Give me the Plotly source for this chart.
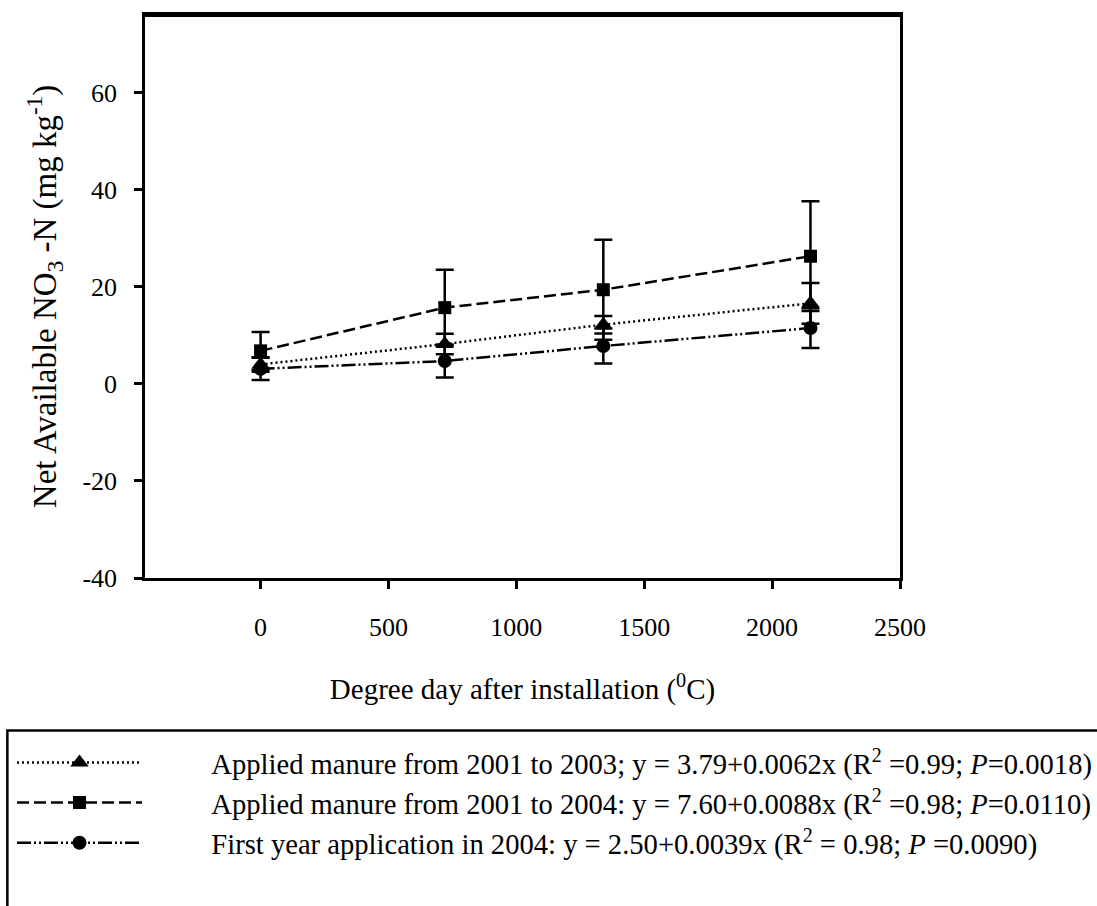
import plotly.graph_objects as go

degree_days = [0, 720, 1340, 2150]

tri_y = [4.0, 8.2, 12.2, 16.6]
tri_err = [1.5, 2.1, 1.8, 4.2]

sq_y = [6.8, 15.7, 19.4, 26.3]
sq_err = [3.9, 7.8, 10.3, 11.3]

cir_y = [3.1, 4.7, 7.8, 11.5]
cir_err = [2.3, 3.4, 3.6, 4.1]

x_ticks = [0, 500, 1000, 1500, 2000, 2500]
y_ticks = [-40, -20, 0, 20, 40, 60]
y_tick_text = ["-40", "-20", "0", "20", "40", "60"]

names = [
    "Applied manure from 2001 to 2003; y = 3.79+0.0062x (R<sup>2</sup> =0.99; <i>P</i>=0.0018)",
    "Applied manure from 2001 to 2004: y = 7.60+0.0088x (R<sup>2</sup> =0.98; <i>P</i>=0.0110)",
    "First year application in 2004: y = 2.50+0.0039x (R<sup>2</sup> = 0.98; <i>P</i> =0.0090)",
]

FONT = "Liberation Serif, serif"
PAD = "\u2002" * 4 + "\u00a0"

fig = go.Figure()

series = [
    (tri_y, tri_err, "triangle-up", 16, "2px,3px", names[0]),
    (sq_y, sq_err, "square", 13, "12px,5px", names[1]),
    (cir_y, cir_err, "circle", 14, "14px,3px,2px,3px,2px,3px", names[2]),
]

for ys, errs, sym, size, dash, name in series:
    fig.add_trace(go.Scatter(
        x=degree_days, y=ys, name=PAD + name,
        mode="lines+markers",
        line=dict(color="black", width=2.5, dash=dash),
        marker=dict(symbol=sym, size=size, color="black"),
        error_y=dict(type="data", array=errs, visible=True, color="black",
                     thickness=2.5, width=9),
    ))

fig.update_layout(
    width=1097, height=906,
    margin=dict(l=143, r=197, t=13, b=328),
    paper_bgcolor="white", plot_bgcolor="white",
    font=dict(family=FONT, size=26, color="black"),
    showlegend=True,
    legend=dict(
        x=-0.176, y=-0.283, xanchor="left", yanchor="top",
        itemwidth=125, traceorder="normal",
        font=dict(family=FONT, size=28.6, color="black"),
        bgcolor="rgba(0,0,0,0)", borderwidth=0,
        itemclick=False, itemdoubleclick=False,
    ),
    xaxis=dict(
        range=[-452, 2500], tickvals=x_ticks,
        tickfont=dict(family=FONT, size=26, color="black"),
        showline=True, linecolor="black", linewidth=2.5, mirror=True,
        ticks="outside", ticklen=8, tickwidth=2.5, tickcolor="black",
        ticklabelstandoff=16,
        showgrid=False, zeroline=False,
        title=dict(text="Degree day after installation (<sup>0</sup>C)", standoff=38,
                   font=dict(family=FONT, size=29, color="black")),
    ),
    yaxis=dict(
        range=[-40, 76], tickvals=y_ticks, ticktext=y_tick_text,
        tickfont=dict(family=FONT, size=26, color="black"),
        showline=True, linecolor="black", linewidth=2.5, mirror=True,
        ticks="outside", ticklen=8, tickwidth=2.5, tickcolor="black",
        ticklabelstandoff=12,
        showgrid=False, zeroline=False,
        title=dict(text="Net Available NO<sub>3</sub> -N (mg kg<sup>-1</sup>)", standoff=16,
                   font=dict(family=FONT, size=33, color="black")),
    ),
    shapes=[
        dict(type="rect", xref="paper", yref="paper",
             x0=(5 - 143) / 757, x1=(1110 - 143) / 757,
             y0=(578 - 731) / 565, y1=(578 - 920) / 565,
             line=dict(color="black", width=2.5), fillcolor="rgba(0,0,0,0)"),
        dict(type="line", xref="paper", yref="paper",
             x0=0, x1=1, y0=1, y1=1,
             line=dict(color="black", width=4)),
    ],
)

fig.write_html("out.html")
